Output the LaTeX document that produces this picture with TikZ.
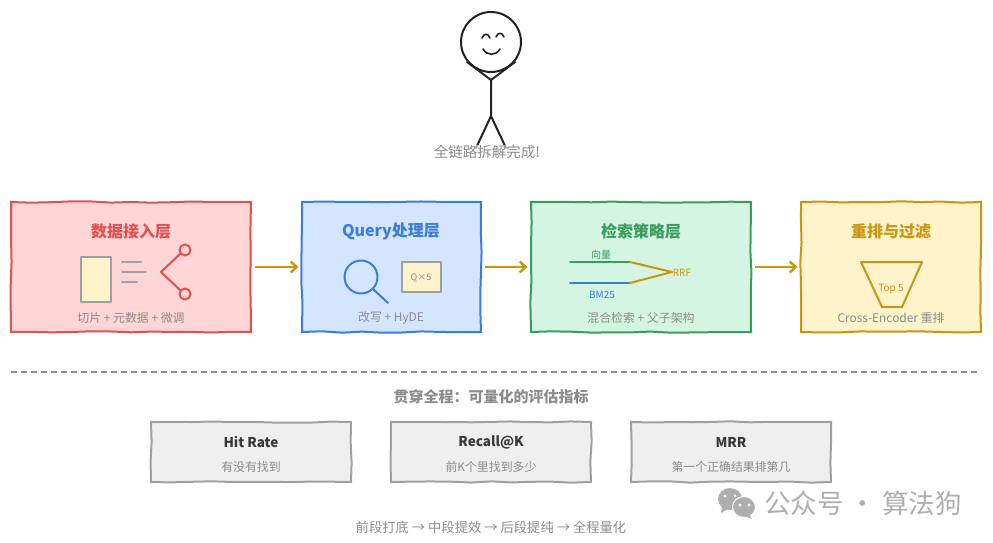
\documentclass[tikz,border=0pt]{standalone}
\usepackage{fontspec}
\setmainfont{Noto Sans CJK SC}
\usetikzlibrary{arrows.meta,decorations.pathmorphing}
\definecolor{redS}{HTML}{E05252}\definecolor{redF}{HTML}{FFD5D5}
\definecolor{bluS}{HTML}{3B7DD8}\definecolor{bluF}{HTML}{D4E6FF}
\definecolor{grnS}{HTML}{3A9D5D}\definecolor{grnF}{HTML}{D5F5E3}
\definecolor{ambS}{HTML}{CA9510}\definecolor{ambF}{HTML}{FFF3CC}
\definecolor{gryS}{HTML}{A0A0A0}\definecolor{gryF}{HTML}{EFEFEF}
\definecolor{capT}{HTML}{8C8C8C}\definecolor{inkT}{HTML}{222222}
\tikzset{
  x=1pt,y=-1pt,
  rough/.style={decorate,decoration={random steps,segment length=20pt,amplitude=0.7pt}},
  panel/.style={draw=#1,line width=2pt,rough,minimum height=130pt,inner sep=0pt},
  card/.style={draw=gryS,fill=gryF,line width=2pt,rough,minimum width=200pt,minimum height=60pt,inner sep=0pt},
  ttl/.style={font=\fontsize{16}{16}\selectfont\bfseries,text=#1,inner sep=0pt},
  captxt/.style={font=\fontsize{11.9}{12}\selectfont,text=capT,inner sep=0pt},
  small/.style={font=\fontsize{10}{10}\selectfont,text=#1,inner sep=0pt},
  cardT/.style={font=\fontsize{13.5}{14}\selectfont\bfseries,text=inkT!90!white,inner sep=0pt},
  link/.style={draw=ambS,line width=2.4pt,-{Straight Barb[length=6pt,width=11pt]},shorten <=3pt,shorten >=2.5pt},
  ink/.style={draw=inkT,line width=2pt,line cap=round,line join=round},
  art/.style={line width=2pt,line cap=round,line join=round},
}
\pgfmathsetseed{7}
\begin{document}
\begin{tikzpicture}
\useasboundingbox (0,0) rectangle (993,543);
% stick figure
\draw[ink] (491,42) circle (30);
\draw[ink] (491,80) -- (491,116) (467,62) -- (491,80) -- (515,62) (491,116) -- (476,148) (491,116) -- (506,148);
\draw[ink,line width=1.6pt] (482,38) .. controls (484,33) and (488,33) .. (490,38);
\draw[ink,line width=1.6pt] (496,37) .. controls (498,32) and (502,32) .. (504,37);
\draw[ink,line width=1.6pt] (483,49) .. controls (487,56) and (496,56) .. (500,49);
\node[font=\fontsize{14.5}{15}\selectfont,text=capT,inner sep=0pt,fill=white,fill opacity=.6,text opacity=1] (done) at (487,152) {全链路拆解完成!};
% panels
\node[panel=redS,fill=redF,minimum width=240pt] (p1) at (131,267) {};
\node[panel=bluS,fill=bluF,minimum width=179pt] (p2) at (391.5,267) {};
\node[panel=grnS,fill=grnF,minimum width=220pt] (p3) at (641,267) {};
\node[panel=ambS,fill=ambF,minimum width=180pt] (p4) at (891,267) {};
\draw[link] (p1) -- (p2);
\draw[link] (p2) -- (p3);
\draw[link] (p3) -- (p4);
\node[ttl=redS] (t1) at (131,231) {数据接入层};
\node[ttl=bluS] (t2) at (391,231) {Query处理层};
\node[ttl=grnS] (t3) at (641,231) {检索策略层};
\node[ttl=ambS] (t4) at (891,231) {重排与过滤};
\node[captxt] (c1) at (131,318) {切片 + 元数据 + 微调};
\node[captxt] (c2) at (391,318) {改写 + HyDE};
\node[captxt] (c3) at (641,318) {混合检索 + 父子架构};
\node[captxt] (c4) at (891,318) {Cross-Encoder 重排};
% red icons
\draw[art,draw=gryS,fill=ambF] (81,257) rectangle (111,302);
\draw[art,draw=gryS] (122,262) -- (141,262) (122,272) -- (146,272) (122,282) -- (137,282);
\draw[art,draw=redS] (181,253) -- (161,272) -- (181,291);
\draw[art,draw=redS] (185,250) circle (5.5) (185,294) circle (5.5);
% blue icons
\draw[art,draw=bluS] (361,277) circle (16.5);
\draw[art,draw=bluS] (373,289) -- (388,303);
\draw[art,draw=gryS,fill=ambF] (402,262) rectangle (441,292);
\node[font=\fontsize{9}{9}\selectfont,text=capT,inner sep=0pt] (qx) at (421,278) {Q×5};
% green icons
\draw[art,draw=grnS] (570,262) -- (630,262);
\draw[art,draw=bluS] (570,283) -- (630,283);
\draw[art,draw=ambS] (630,262) -- (672,272) -- (630,283);
\node[small=grnS] (lv) at (601,255) {向量};
\node[small=bluS] (lb) at (602,295) {BM25};
\node[small=ambS] (lr) at (682,273) {RRF};
% funnel
\draw[art,draw=ambS] (861,262) -- (922,262) -- (902,307) -- (882,307) -- cycle;
\node[small=ambS] (lt) at (891,289) {Top 5};
% separator
\coordinate (sepL) at (11,372);
\coordinate (sepR) at (981,372);
\draw[draw=capT,line width=1.5pt,dash pattern=on 6pt off 4pt] (sepL) -- (sepR);
\node[font=\fontsize{15}{15}\selectfont\bfseries,text=capT,inner sep=0pt] (hd) at (491,397) {贯穿全程：可量化的评估指标};
% cards
\node[card] (m1) at (251,452) {};
\node[card] (m2) at (491,452) {};
\node[card] (m3) at (731,452) {};
\node[cardT] (m1t) at (251,442) {Hit Rate};
\node[cardT] (m2t) at (491,442) {Recall@K};
\node[cardT] (m3t) at (731,442) {MRR};
\node[captxt] (m1s) at (251,467) {有没有找到};
\node[captxt] (m2s) at (491,467) {前K个里找到多少};
\node[captxt] (m3s) at (731,467) {第一个正确结果排第几};
\node[font=\fontsize{13.3}{14}\selectfont,text=capT,inner sep=0pt] (ft) at (491,527) {前段打底 → 中段提效 → 后段提纯 → 全程量化};
% watermark
\fill[gryS!85!white] (730,499) ellipse (12 and 11);
\fill[gryS!85!white] (722,507) -- (721,513) -- (728,509) -- cycle;
\fill[white] (725,496) circle (1.7) (735,496) circle (1.7);
\draw[white,fill=gryS!85!white,line width=1pt] (744,507) ellipse (11.5 and 10.5);
\fill[gryS!85!white] (749,514) -- (752,519) -- (744,516) -- cycle;
\fill[white] (740,505) circle (1.6) (749,505) circle (1.6);
\node[font=\fontsize{26.5}{27}\selectfont,text=gryS!85!white,inner sep=0pt] (wm) at (863,503) {公众号 · 算法狗};
\end{tikzpicture}
\end{document}
